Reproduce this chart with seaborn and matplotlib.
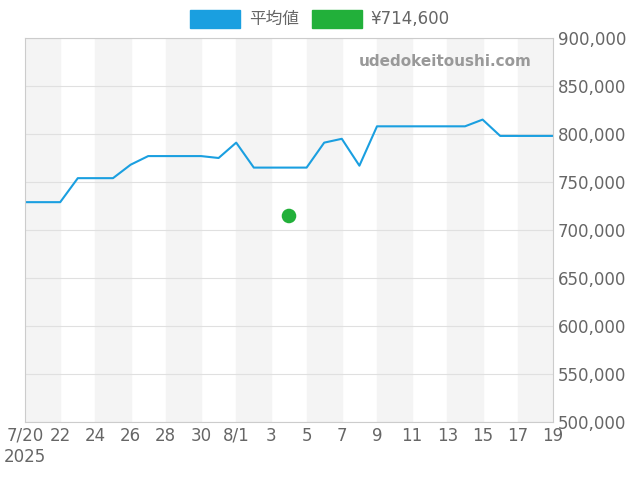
import matplotlib
matplotlib.use("Agg")
import matplotlib.pyplot as plt
import seaborn as sns
import pandas as pd
import numpy as np
from matplotlib.patches import Patch

days = list(range(31))  # 0 = 7/20
avg = [729000,729000,729000,754000,754000,754000,768000,777000,777000,777000,777000,775000,791000,765000,765000,765000,765000,791000,795000,767000,808000,808000,808000,808000,808000,808000,815000,798000,798000,798000,798000]
tick_labels = ["7/20\n2025","22","24","26","28","30","8/1","3","5","7","9","11","13","15","17","19"]
point_day = [15]
point_val = [714600]

sns.set_style("white")
plt.rcParams['font.family'] = ['DejaVu Sans', 'Noto Sans CJK JP']
fig = plt.figure(figsize=(6.4, 4.8), dpi=100)
ax = fig.add_axes([25/640, 1-422/480, 528/640, 384/480])
for s in range(0, 30, 4):
    ax.axvspan(s, s+2, color="#f4f4f4", zorder=0)
df = pd.DataFrame({"d": days, "v": avg})
sns.lineplot(data=df, x="d", y="v", ax=ax, color="#1a9fe0", lw=1.5)
sns.scatterplot(x=point_day, y=point_val, ax=ax, color="#22b03a", s=110, zorder=5, edgecolor="none")
ax.set_xlim(0, 30); ax.set_ylim(500000, 900000)
ax.set_xticks(range(0, 31, 2)); ax.set_xticklabels(tick_labels)
ax.set_yticks(range(500000, 900001, 50000))
ax.set_yticklabels([f"{v:,}" for v in range(500000, 900001, 50000)])
ax.yaxis.tick_right()
ax.tick_params(labelsize=12, colors="#666666", length=0)
for lab in ax.get_xticklabels(): lab.set_ha("center")
ax.grid(axis="y", color="#e0e0e0", lw=0.8)
ax.set_xlabel(""); ax.set_ylabel("")
for sp in ax.spines.values(): sp.set_color("#cccccc")
ax.text(0.96, 0.94, "udedokeitoushi.com", transform=ax.transAxes, ha="right", va="center",
        fontsize=11, color="#999999", fontweight="bold")
handles = [Patch(color="#1a9fe0"), Patch(color="#22b03a")]
fig.legend(handles, ["平均値", "¥714,600"], loc="center", bbox_to_anchor=(0.5, 1-19/480), ncol=2,
           frameon=False, fontsize=12, handlelength=3, handleheight=1.3, labelcolor="#666666",
           columnspacing=0.8, handletextpad=0.5)
fig.savefig("out.png", dpi=100)
